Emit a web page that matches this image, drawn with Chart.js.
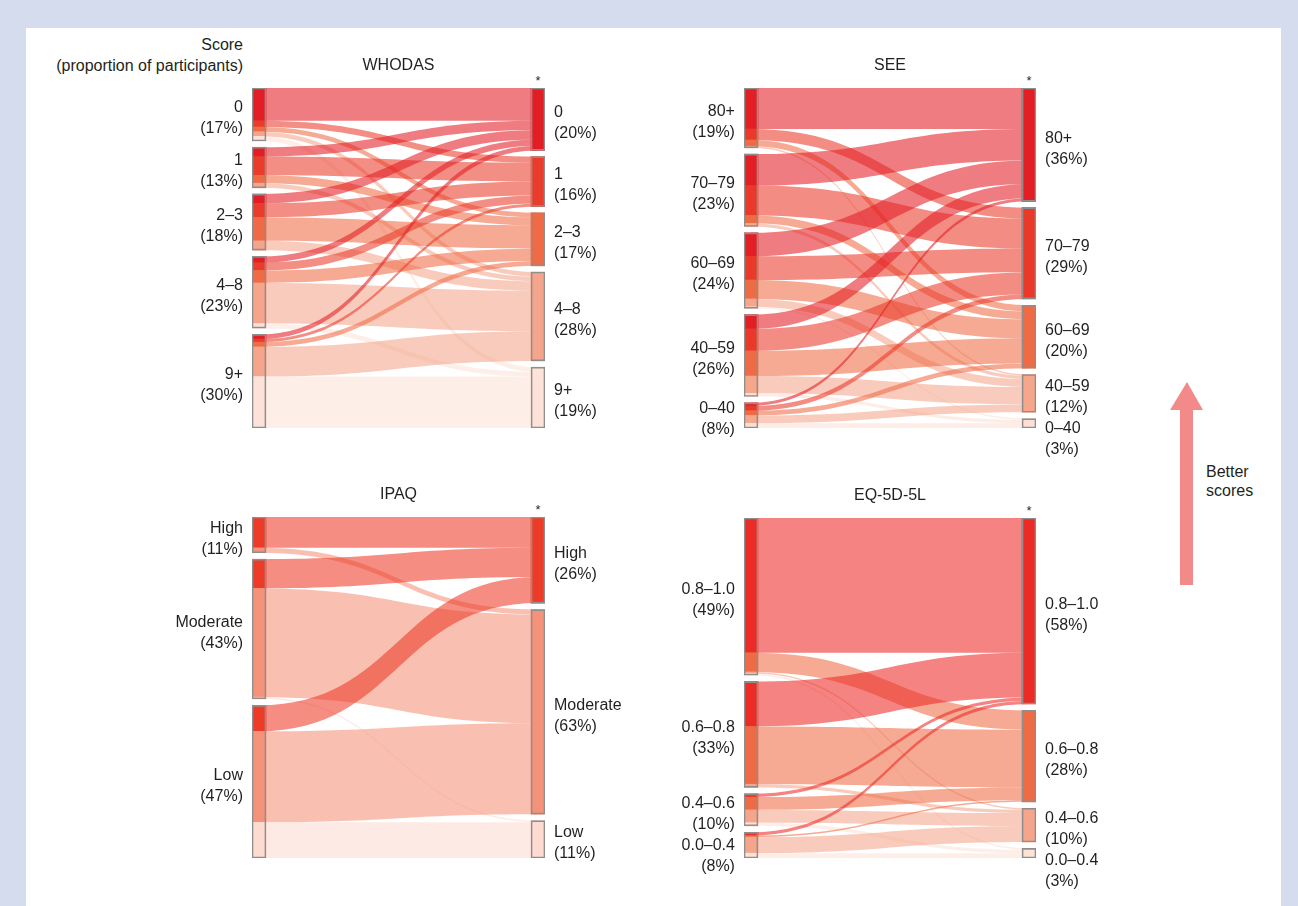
<!DOCTYPE html>
<html>
<head>
<meta charset="UTF-8">
<title>Score transitions</title>
<script src="https://cdn.jsdelivr.net/npm/chart.js@4"></script>
<style>
  body { margin:0; width:1298px; height:906px; background:#d5dcee; position:relative; overflow:hidden;
         font-family:"Liberation Sans", Arial, sans-serif; color:#231f20; }
  #sheet { position:absolute; left:26px; top:28px; width:1255px; height:878px; background:#fff; }
  canvas { position:absolute; }
  #score { position:absolute; left:0; top:34px; width:243px; text-align:right; font-size:16px; line-height:21px; }
  #better { position:absolute; left:1206px; top:462px; font-size:16px; line-height:19px; }
  #arrow { position:absolute; left:1168px; top:380px; }
</style>
</head>
<body>
<div id="sheet"></div>
<div id="score">Score<br>(proportion of participants)</div>
<canvas id="whodas" width="500" height="420" style="left:150px;top:40px"></canvas>
<canvas id="see" width="480" height="420" style="left:650px;top:40px"></canvas>
<canvas id="ipaq" width="500" height="436" style="left:150px;top:470px"></canvas>
<canvas id="eq" width="480" height="436" style="left:650px;top:470px"></canvas>
<svg id="arrow" width="40" height="210">
  <polygon points="19,2 35,30 25,30 25,205 12,205 12,30 2,30" fill="#f38a8a"/>
</svg>
<div id="better">Better<br>scores</div>

<script>
const GAP = 2;     // space between nodes, in percent units
const BAR = 14;    // node width in px

// WHODAS
const whodasCats = ['0', '1', '2–3', '4–8', '9+'];
const whodasLeftPct = [17, 13, 18, 23, 30];
const whodasRightPct = [20, 16, 17, 28, 19];
const whodasColors = ['#e31d25', '#eb3c2b', '#ef6a45', '#f5a58b', '#fce2d8'];
// rows = baseline category, columns = follow-up category
const whodasFlows = [
  [10.5, 2, 1.5, 1.5, 1.5],
  [3, 6, 2.5, 1.5, 0],
  [3, 4.5, 7.5, 3, 0],
  [2, 2.5, 4, 13, 1.5],
  [1.5, 1, 1.5, 9.5, 16.5]
];

// SEE
const seeCats = ['80+', '70–79', '60–69', '40–59', '0–40'];
const seeLeftPct = [19, 23, 24, 26, 8];
const seeRightPct = [36, 29, 20, 12, 3];
const seeColors = ['#e31e24', '#eb3929', '#ef6b45', '#f5a68b', '#fde0d5'];
const seeFlows = [
  [13, 3.5, 2, 0.5, 0],
  [10, 9.5, 2.5, 1, 0],
  [7.5, 7.5, 6, 2.5, 0.5],
  [4.5, 7, 8, 5.5, 1],
  [1, 1.5, 1.5, 2.5, 1.5]
];

// IPAQ
const ipaqCats = ['High', 'Moderate', 'Low'];
const ipaqLeftPct = [11, 43, 47];
const ipaqRightPct = [26, 63, 11];
const ipaqColors = ['#ee3b28', '#f4937a', '#fddbd0'];
const ipaqFlows = [
  [9.5, 1.5, 0],
  [9, 33.5, 0.5],
  [8, 28, 11]
];

// EQ-5D-5L
const eqCats = ['0.8–1.0', '0.6–0.8', '0.4–0.6', '0.0–0.4'];
const eqLeftPct = [49, 33, 10, 8];
const eqRightPct = [58, 28, 10, 3];
const eqColors = ['#ec2a26', '#ef6b45', '#f5a58b', '#fde2d8'];
const eqFlows = [
  [42, 6, 0.5, 0.5],
  [14, 18, 1, 0],
  [1, 4, 4, 1],
  [1, 0.5, 5, 1.5]
];

function sum(a) { return a.reduce((s, v) => s + v, 0); }

function rgba(hex, a) {
  const r = parseInt(hex.substr(1, 2), 16), g = parseInt(hex.substr(3, 2), 16), b = parseInt(hex.substr(5, 2), 16);
  return 'rgba(' + r + ',' + g + ',' + b + ',' + a + ')';
}

function buildChart(id, title, cats, leftPct, rightPct, colors, flows, pad) {
  const n = cats.length;
  const leftSize = flows.map(r => sum(r));
  const rightSize = cats.map((c, j) => sum(flows.map(r => r[j])));
  const total = Math.max(sum(leftSize), sum(rightSize)) + GAP * (n - 1);

  // stack baseline side: each node split by follow-up category
  const leftNode = [], leftSeg = [];
  let y = 0;
  for (let i = 0; i < n; i++) {
    let s = y;
    leftSeg[i] = [];
    for (let j = 0; j < n; j++) {
      leftSeg[i][j] = [s, s + flows[i][j]];
      s += flows[i][j];
    }
    leftNode[i] = [y, s];
    y = s + GAP;
  }
  // follow-up side: each node collects flows in baseline order
  const rightNode = [], rightSeg = cats.map(() => []);
  y = 0;
  for (let j = 0; j < n; j++) {
    let s = y;
    for (let i = 0; i < n; i++) {
      rightSeg[i][j] = [s, s + flows[i][j]];
      s += flows[i][j];
    }
    rightNode[j] = [y, s];
    y = s + GAP;
  }

  const segData = [], segColors = [];
  for (let i = 0; i < n; i++) {
    for (let j = 0; j < n; j++) {
      if (flows[i][j] > 0) {
        segData.push({ x: 0, y: leftSeg[i][j] });
        segColors.push(colors[j]);
      }
    }
  }
  const outlineData = leftNode.map(v => ({ x: 0, y: v })).concat(rightNode.map(v => ({ x: 1, y: v })));

  const flowPlugin = {
    id: 'flows',
    beforeDatasetsDraw(chart) {
      const ctx = chart.ctx, xs = chart.scales.x, ys = chart.scales.y;
      const x0 = xs.getPixelForValue(0), x1 = xs.getPixelForValue(1), xm = (x0 + x1) / 2;
      ctx.save();
      for (let i = 0; i < n; i++) {
        for (let j = 0; j < n; j++) {
          if (!(flows[i][j] > 0)) continue;
          const a0 = ys.getPixelForValue(leftSeg[i][j][0]), a1 = ys.getPixelForValue(leftSeg[i][j][1]);
          const b0 = ys.getPixelForValue(rightSeg[i][j][0]), b1 = ys.getPixelForValue(rightSeg[i][j][1]);
          ctx.beginPath();
          ctx.moveTo(x0, a0);
          ctx.bezierCurveTo(xm, a0, xm, b0, x1, b0);
          ctx.lineTo(x1, b1);
          ctx.bezierCurveTo(xm, b1, xm, a1, x0, a1);
          ctx.closePath();
          ctx.fillStyle = rgba(colors[j], 0.58);
          ctx.fill();
        }
      }
      ctx.restore();
    }
  };

  const labelPlugin = {
    id: 'labels',
    afterDraw(chart) {
      const ctx = chart.ctx, xs = chart.scales.x, ys = chart.scales.y, area = chart.chartArea;
      const x0 = xs.getPixelForValue(0), x1 = xs.getPixelForValue(1);
      ctx.save();
      ctx.fillStyle = '#231f20';
      ctx.textBaseline = 'middle';
      ctx.font = '16px "Liberation Sans", Arial, sans-serif';
      ctx.textAlign = 'center';
      ctx.fillText(title, (area.left + area.right) / 2, area.top - 22);

      const sides = [
        { nodes: leftNode, pct: leftPct, x: x0 - BAR / 2 - 9, align: 'right' },
        { nodes: rightNode, pct: rightPct, x: x1 + BAR / 2 + 9, align: 'left' }
      ];
      sides.forEach(side => {
        ctx.textAlign = side.align;
        let prev = -Infinity;
        side.nodes.forEach((node, k) => {
          let c = (ys.getPixelForValue(node[0]) + ys.getPixelForValue(node[1])) / 2 + 4;
          c = Math.max(c, prev + 42);
          prev = c;
          ctx.fillText(cats[k], side.x, c - 10.5);
          ctx.fillText('(' + side.pct[k] + '%)', side.x, c + 10.5);
        });
      });

      ctx.font = '13px "Liberation Sans", Arial, sans-serif';
      ctx.textAlign = 'center';
      ctx.fillText('*', x1, area.top - 7);
      ctx.restore();
    }
  };

  return new Chart(document.getElementById(id), {
    type: 'bar',
    data: {
      datasets: [
        // first dataset is painted last, so the outlines sit on top
        { data: outlineData, backgroundColor: 'rgba(0,0,0,0)', borderColor: '#8e8e8e', borderWidth: 1, borderSkipped: false },
        { data: segData, backgroundColor: segColors, borderWidth: 0 },
        { data: rightNode.map(v => ({ x: 1, y: v })), backgroundColor: colors, borderWidth: 0 }
      ]
    },
    options: {
      responsive: false,
      animation: false,
      devicePixelRatio: 1,
      layout: { padding: pad },
      datasets: { bar: { grouped: false, barThickness: BAR } },
      plugins: { legend: { display: false }, tooltip: { enabled: false } },
      scales: {
        x: { type: 'linear', min: -0.025, max: 1.025, offset: false, display: false },
        y: { type: 'linear', min: 0, max: total, reverse: true, display: false }
      }
    },
    plugins: [flowPlugin, labelPlugin]
  });
}

buildChart('whodas', 'WHODAS', whodasCats, whodasLeftPct, whodasRightPct, whodasColors, whodasFlows,
  { left: 102, right: 105, top: 48, bottom: 32 });
buildChart('see', 'SEE', seeCats, seeLeftPct, seeRightPct, seeColors, seeFlows,
  { left: 94, right: 94, top: 48, bottom: 32 });
buildChart('ipaq', 'IPAQ', ipaqCats, ipaqLeftPct, ipaqRightPct, ipaqColors, ipaqFlows,
  { left: 102, right: 105, top: 47, bottom: 48 });
buildChart('eq', 'EQ-5D-5L', eqCats, eqLeftPct, eqRightPct, eqColors, eqFlows,
  { left: 94, right: 94, top: 48, bottom: 48 });
</script>
</body>
</html>
